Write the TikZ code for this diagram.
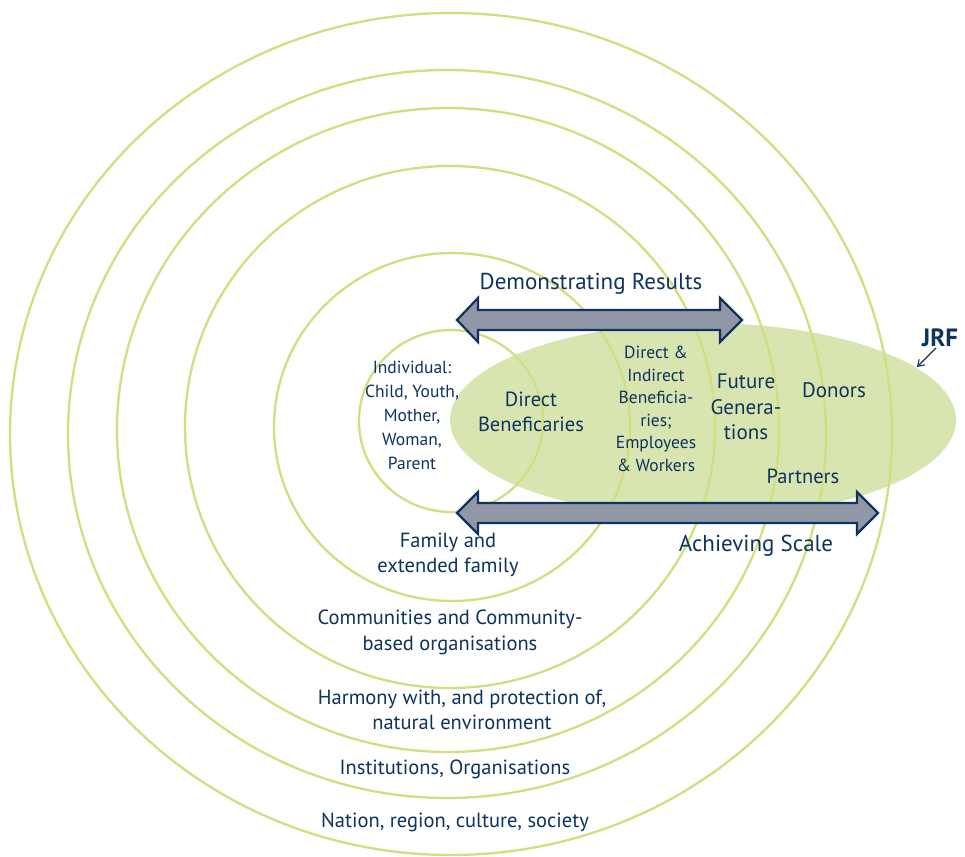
\documentclass[tikz,border=0pt]{standalone}
\usepackage{fontspec}
\setmainfont{PT Sans}
\usetikzlibrary{arrows.meta}
\definecolor{ringline}{RGB}{210,223,128}
\definecolor{jrffill}{RGB}{217,229,177}
\definecolor{navy}{RGB}{12,52,94}
\definecolor{arrowfill}{RGB}{146,151,168}
\tikzset{
  ring/.style={draw=ringline, line width=2.3pt},
  bigarrow/.style={draw=navy, fill=arrowfill, line width=2.2pt, line join=miter},
  lbl/.style={text=navy, align=center, inner sep=0pt},
  big/.style={lbl, font=\fontsize{23}{27}\selectfont},
  mid/.style={lbl, font=\fontsize{20.5}{25}\selectfont},
  small/.style={lbl, font=\fontsize{17.5}{24}\selectfont},
}
\begin{document}
\begin{tikzpicture}[x=1pt,y=-1pt]
\useasboundingbox (0,0) rectangle (965,856);
\fill[white] (0,0) rectangle (965,856);

% JRF zone
\fill[jrffill] (703,420) ellipse [x radius=253pt, y radius=97pt];

% nested spheres of influence
\draw[ring] (451,434) ellipse [x radius=441pt, y radius=421pt];
\draw[ring] (447,434) ellipse [x radius=379pt, y radius=364pt];
\draw[ring] (448,430) ellipse [x radius=331pt, y radius=322pt];
\draw[ring] (450,427) ellipse [x radius=265pt, y radius=261pt];
\draw[ring] (452,427) ellipse [x radius=178pt, y radius=174pt];
\draw[ring] (451,421) ellipse [x radius=92pt, y radius=91pt];

% double arrows
\draw[bigarrow] (457,320) -- (478,298) -- (478,310) -- (720,310) -- (720,298)
  -- (742,320) -- (720,342) -- (720,330) -- (478,330) -- (478,342) -- cycle;
\draw[bigarrow] (457,513) -- (478,492) -- (478,503) -- (857,503) -- (857,492)
  -- (878,513) -- (857,534) -- (857,523) -- (478,523) -- (478,534) -- cycle;

% labels
\node[big] (demo) at (591,284) {Demonstrating Results};
\node[big] (scale) at (756,546) {Achieving Scale};
\node[small] (indiv) at (412,415) {Individual:\\Child, Youth,\\Mother,\\Woman,\\Parent};
\node[mid] (direct) at (531,412) {Direct\\Beneficaries};
\node[small, font=\fontsize{17.5}{22.5}\selectfont] (indirect) at (656,409)
  {Direct \&\\Indirect\\Beneficia-\\ries;\\Employees\\\& Workers};
\node[mid, font=\fontsize{21}{25.5}\selectfont] (future) at (746,407) {Future\\Genera-\\tions};
\node[mid, font=\fontsize{21}{25}\selectfont] (donors) at (834,390) {Donors};
\node[mid] (partners) at (803,476) {Partners};
\node[mid] (family) at (448,555) {Family and\\extended family};
\node[mid, font=\fontsize{20.5}{26}\selectfont] (comm) at (450,632) {Communities and Community-\\based organisations};
\node[mid] (harmony) at (462,710) {Harmony with, and protection of,\\natural environment};
\node[mid] (inst) at (455,769) {Institutions, Organisations};
\node[mid] (nation) at (455,822) {Nation, region, culture, society};
\node[lbl, font=\fontsize{25}{28}\selectfont\bfseries] (jrf) at (940,338) {JRF};
\coordinate (jrftip) at (917,367);
\draw[navy, line width=1.1pt, -{Straight Barb[length=6pt,width=8pt]}] (936,348) -- (jrftip);
\end{tikzpicture}
\end{document}
